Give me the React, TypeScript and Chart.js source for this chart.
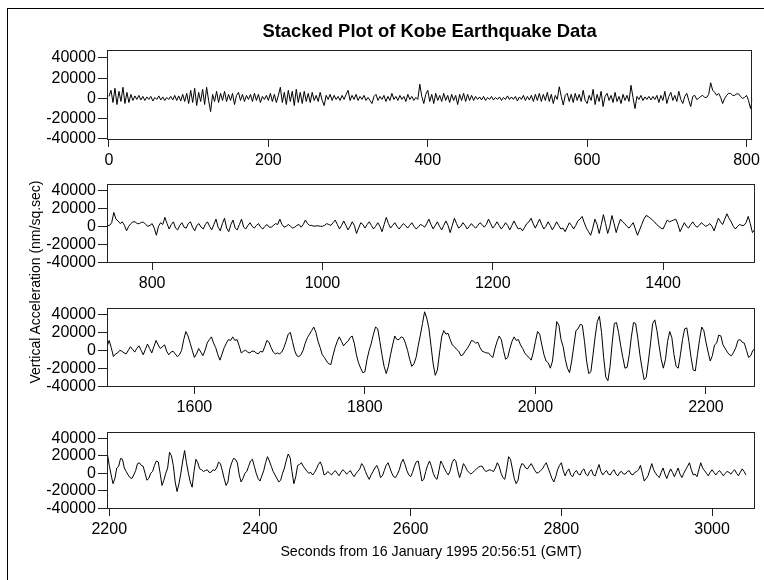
import { useEffect, useRef } from "react";
import { Chart, registerables } from "chart.js";

Chart.register(...registerables);

// ---------------- DATA ----------------
const CHART_TITLE = "Stacked Plot of Kobe Earthquake Data";
const X_TITLE = "Seconds from 16 January 1995 20:56:51 (GMT)";
const Y_TITLE = "Vertical Acceleration (nm/sq.sec)";

// one reading every 2.5 seconds, starting at second 0
const SAMPLE_INTERVAL = 2.5;

// vertical acceleration (nm/sq.sec), rows of 100 seconds (40 readings each)
const acceleration: number[] = [
  // 0
  2000, 8000, -4000, 10000, -6000, 7000, -3000, 11000, -5000, 6000, -4000, 4000, -2000, 2500, -1000, 3000, -1500, 2000, -2000, 1500,
  -1000, 2000, -2500, 1000, -1000, 2500, -1500, 1500, -2000, 1000, -1000, 2000, -1500, 3000, -2000, 2500, -2500, 4000, -3000, 5000,
  // 100
  -5000, 8000, -4000, 10000, -7000, 6000, -3000, 9000, -6000, 11000, -2000, -13000, 4000, -3000, 7000, -4000, 5000, -2000, 7000, -3000,
  4000, -2000, 5000, -6000, 3000, 6000, -2000, 4000, -3000, 3000, -1000, 4000, -3000, 5000, -2000, 4000, -4000, 2000, -1000, 3000,
  // 200
  -2000, 5000, -3000, 4000, -4000, 3000, 11000, -4000, 6000, -6000, 8000, -3000, 7000, -7000, 9000, -4000, 6000, -5000, 7000, -3000,
  5000, -4000, 6000, -2000, 3000, -3000, 6000, -2000, -7000, 3000, -1000, 4000, -2000, 3000, -1000, 2000, -2000, 3000, -1000, 4000,
  // 300
  8000, -2000, 3000, -1000, 4000, -2000, 2000, -1000, 3000, -2000, 1000, -2000, -5000, 2000, 4000, -2000, 2000, -1000, 3000, -3000,
  2000, -2000, 5000, -1000, 2000, -2000, 3000, -1000, 2000, -3000, 4000, -1000, 2000, -2000, 1000, -1000, 14000, 2000, -5000, 4000,
  // 400
  8000, -3000, 4000, -5000, 5000, -2000, 3000, -3000, 5000, -2000, 3000, -4000, 4000, -2000, 3000, -6000, 4000, -2000, 5000, -3000,
  4000, -2000, 3000, -2000, 2000, -1000, 1500, -1500, 2000, -2000, 1000, -1000, 2000, -1500, 1000, -1000, 1500, -2000, 1000, -1000,
  // 500
  2500, -1000, 1500, -1000, 2000, -2500, 1500, -1000, 3000, -2000, 2000, -1500, 3000, -3000, 4000, -2000, 5000, -3000, 4000, -2000,
  6000, -3000, 4000, -5000, 3000, -1000, 11500, 2000, -6500, 3000, 5000, -3000, 4000, -4000, 5000, -2000, 4000, -3000, 8000, -2000,
  // 600
  -5000, 3000, -2000, 9000, -6000, 4000, -3000, 7000, -8000, 2000, 5000, -2000, 3000, -4000, 6000, -3000, 2000, -5000, 4000, -2000,
  3000, -3000, 13000, 1000, -10000, 2000, -1000, 3000, -2000, 1500, -1000, 2000, -1500, 2000, -1000, 3000, -4000, 3000, -2000, 7000,
  // 700
  -5000, 2000, 6000, -2000, 3000, -3000, 7000, -1000, -5000, 2000, 5000, -2000, -8000, 2000, 3000, -1000, 0, 2000, 3000, 1000,
  1000, 4000, 15500, 8000, 6000, 3000, 5000, 1000, -5000, 0, 3000, 5000, 5000, 3000, 3000, 4500, 4500, 2000, 0, 1000,
  // 800
  3000, -2000, -10000, 0, 4000, 2000, 10000, 3000, -3000, 2000, 5000, -2000, -4000, 1000, 4000, -1000, -2000, 3000, 5000, -1000,
  -5000, 1000, 3000, -1000, -3000, 2000, 5000, 0, -4000, 2000, 8000, -1000, -5000, 3000, 9000, -2000, -6000, 2000, 7000, -2000,
  // 900
  -4000, 2000, 8000, -1000, -3000, 1000, 4000, 0, -2000, 1000, 3000, -1000, -3000, 0, 2000, -1000, -1000, 1000, 3000, 2000,
  8000, 2000, -1000, 0, 2000, 0, -2000, -1000, 1000, 2000, -1000, 2000, 7000, 3000, 1000, 1000, 0, 500, 500, 0,
  // 1000
  0, 1000, 3000, 2000, 1000, 4000, 7000, 2000, -3000, 1000, 6000, 1000, -4000, 0, 5000, 1000, -8000, -2000, 4000, 2000,
  -2000, 2000, 5000, 1000, -3000, 0, 4000, 0, -6000, 2000, 10000, 3000, -2000, 1000, 4000, 0, -3000, 0, 3000, 1000,
  // 1100
  -2000, 1000, 4000, 0, -3000, -1000, 2000, 1000, -1000, 3000, 8000, 2000, -3000, 1000, 5000, 0, -4000, 1000, 6000, 1000,
  -7000, 1000, 9000, 3000, -2000, 0, 4000, 1000, -3000, 0, 3000, 0, -2000, 1000, 4000, 2000, -1000, 2000, 8000, 3000,
  // 1200
  -2000, 1000, 5000, 1000, -3000, 0, 4000, 1000, -4000, 1000, 6000, 1000, -3000, -2000, -5000, -1000, 3000, 5000, 9000, 3000,
  -2000, 3000, 8000, 2000, -3000, 0, 5000, 1000, -4000, 0, 5000, 1000, -3000, -2000, -6000, -1000, 4000, 1000, -3000, 1000,
  // 1300
  6000, 8000, 11000, 4000, -2000, -6000, -10000, -2000, 8000, 2000, -8000, 2000, 13000, 3000, -8000, 0, 12000, 3000, -7000, 1000,
  8000, 5000, 3000, 0, -2000, 1000, 4000, -3000, -10000, -4000, 2000, 8000, 12000, 11000, 9000, 7000, 5000, 2000, 0, -2000,
  // 1400
  -3000, 2000, 7000, 5000, 6000, 7000, 8000, 2000, -6000, -1000, 4000, 0, -2000, 2000, 5000, 1000, -1000, 1000, 4000, 2000,
  0, 1000, 3000, 0, -5000, 2000, 9000, 5000, 2000, 8000, 14000, 9000, 5000, 0, -3000, 0, 2000, 1000, 1000, 4000,
  // 1500
  11000, 3000, -7000, -4000, -3000, 0, -1000, -3000, -4000, 0, 4000, 1000, -2000, 2000, 5000, 0, -5000, 1000, 7000, 2000,
  -3000, 4000, 11000, 6000, 2000, 4000, 6000, -1000, -5000, -2000, -1000, -4000, -7000, -5000, 0, 12000, 21000, 16000, 8000, 0,
  // 1600
  -8000, -4000, 2000, -2000, -6000, 0, 8000, 12000, 15000, 8000, 3000, -5000, -11000, -4000, 3000, 8000, 12000, 11000, 15000, 11000,
  12000, 5000, -3000, -1000, 0, -2000, -3000, -1000, -1000, -3000, -4000, -1000, -2000, 4000, 11000, 9000, 3000, -2000, -4000, -3000,
  // 1700
  -4000, -2000, 3000, 10000, 18000, 20000, 10000, 0, -6000, -7000, -5000, 0, 8000, 14000, 18000, 22000, 26000, 20000, 10000, 3000,
  -5000, -8000, -12000, -15000, -16000, -6000, 3000, 10000, 15000, 10000, 5000, 8000, 10000, 14000, 16000, 8000, -5000, -14000, -20000, -25000,
  // 1800
  -24000, -10000, 0, 8000, 18000, 26000, 24000, 10000, -5000, -18000, -26000, -18000, -5000, 6000, 16000, 12000, 12000, 15000, 14000, 8000,
  0, -10000, -18000, -15000, -8000, 5000, 17000, 30000, 43000, 36000, 25000, 5000, -15000, -28000, -22000, -3000, 15000, 22000, 18000, 19000,
  // 1900
  12000, 6000, 4000, 1000, -1000, -6000, -5000, -1000, 2000, 6000, 11000, 10000, 8000, 9000, 3000, -1000, -2000, -3000, -3000, -6000,
  -8000, 2000, 10000, 16000, 12000, 0, -10000, -8000, 2000, 10000, 15000, 11000, 12000, 6000, 2000, -3000, -6000, -8000, -11000, -2000,
  // 2000
  10000, 21000, 18000, 6000, -5000, -12000, -14000, -20000, -12000, 10000, 32000, 28000, 12000, 4000, -10000, -20000, -25000, -12000, 5000, 22000,
  24000, 29000, 28000, 10000, -12000, -26000, -24000, -5000, 15000, 32000, 38000, 20000, -8000, -30000, -34000, -18000, 8000, 30000, 31000, 20000,
  // 2100
  5000, -8000, -20000, -19000, -5000, 15000, 31000, 30000, 14000, -5000, -20000, -33000, -30000, -12000, 8000, 30000, 34000, 22000, 5000, -10000,
  -20000, -10000, 10000, 21000, 14000, -5000, -18000, -20000, -5000, 12000, 24000, 25000, 10000, -8000, -22000, -23000, -5000, 12000, 26000, 22000,
  // 2200
  9000, -2000, -12000, -6000, 6000, 8000, 17000, 16000, 6000, 2000, -2000, -5000, -6000, -2000, 3000, 11000, 12000, 9000, 8000, 0,
  -8000, -6000, 0, 2000, 9000, 14000, 13000, 0, -14000, -8000, 0, 6000, 24000, 20000, 9000, -10000, -21000, -12000, 0, 14000,
  // 2300
  26000, 12000, 0, -10000, -16000, 2000, 16000, 12000, 5000, 4000, 2000, 3000, 4000, 1000, 1000, 4000, 3000, 6000, 12700, 11000,
  3000, -6000, -14000, -10000, 5000, 12000, 17000, 16000, 12000, -2000, -10000, -6000, 0, 2000, 8000, 14000, 16000, 8000, 0, -6000,
  // 2400
  -9000, -3000, 3000, 12000, 19000, 14000, 8000, 2000, -2000, -6000, -10000, -8000, 0, 6000, 15000, 22000, 18000, 2000, -12000, -4000,
  9000, 10000, 12000, 8000, 5000, 2000, 0, 1000, -2000, 1000, 5000, 10000, 13000, 8000, -2000, -1000, 2000, 0, -2000, 1000,
  // 2500
  3000, 0, -3000, 1000, 4000, 2000, -1000, 1000, 3000, -1000, -4000, 0, 2000, 5000, 11000, 8000, 2000, -3000, -7000, -2000,
  2000, 6000, 9000, 4000, -5000, -3000, 3000, 9000, 12000, 6000, 0, -4000, -5000, -1000, 4000, 12000, 16000, 10000, 3000, -2000,
  // 2600
  -4000, 1000, 8000, 13000, 14000, 3000, -9000, -7000, 2000, 9000, 14000, 8000, 0, -5000, -7000, 3000, 14000, 10000, 5000, 1000,
  -2000, 3000, 12000, 16000, 14000, 3000, -5000, 2000, 11000, 8000, 3000, 1000, -1000, 1000, 3000, 5000, 7000, 8000, 8000, 4000,
  // 2700
  2000, 3000, 4000, 3000, 2000, 6000, 12000, 8000, 0, -5000, -7000, 5000, 19000, 16000, 5000, -6000, -12000, -8000, 5000, 11000,
  10000, 6000, 5000, 8000, 11000, 7000, 3000, 0, 1000, 3000, 5000, 9000, 12000, 6000, 0, -6000, -10000, -4000, 4000, 9000,
  // 2800
  12000, 3000, -3000, 2000, 5000, -2000, -4000, 1000, 3000, -1000, -2000, 3000, 5000, -1000, -3000, 2000, 4000, -2000, -3000, 4000,
  10000, 2000, -2000, 1000, 3000, -1000, -2000, 2000, 4000, -1000, -3000, 1000, 2000, -1000, -1000, 2000, 3000, -1000, -2000, 1000,
  // 2900
  2000, 4000, 9000, 0, -9000, -6000, -3000, 4000, 11000, 4000, 0, -3000, -5000, 1000, 6000, -1000, -6000, 0, 5000, 1000,
  -4000, 1000, 6000, -1000, -5000, 0, 4000, 8000, 12000, 4000, -2000, -1000, -4000, 4000, 12000, 6000, 3000, 0, -3000, 1000,
  // 3000
  4000, 1000, -2000, 1000, 3000, 0, -3000, 0, 2000, 1000, -1000, 2000, 4000, 0, -3000, 1000, 5000, 2000, -2000,
];

// time window (seconds) shown in each stacked panel
const panelWindows: [number, number][] = [
  [-2.5, 807],
  [747, 1508],
  [1497.5, 2257.5],
  [2197, 3057],
];
const panelTicks: number[][] = [
  [0, 200, 400, 600, 800],
  [800, 1000, 1200, 1400],
  [1600, 1800, 2000, 2200],
  [2200, 2400, 2600, 2800, 3000],
];
const accelTicks = [-40000, -20000, 0, 20000, 40000];
const ACCEL_MIN = -41000;
const ACCEL_MAX = 47700;

// ---------------- LAYOUT / STYLE ----------------
const W = 764;
const H = 580;
const FONT = "'Liberation Sans', Arial, Helvetica, sans-serif";
const AXIS_COLOR = "#222";

const panelBoxes = [
  { top: 0, height: 172, padTop: 0, xHeight: 32 },
  { top: 172, height: 124, padTop: 2, xHeight: 33 },
  { top: 296, height: 124, padTop: 2, xHeight: 33 },
  { top: 420, height: 160, padTop: 1, xHeight: 71 },
];

Chart.defaults.font.family = FONT;

const boxPlugin = {
  id: "plotBox",
  afterDraw(chart: any) {
    const { ctx, chartArea } = chart;
    const l = Math.round(chartArea.left) + 0.5;
    const t = Math.round(chartArea.top) + 0.5;
    const r = Math.round(chartArea.right) - 0.5;
    const b = Math.round(chartArea.bottom) - 0.5;
    ctx.save();
    ctx.strokeStyle = AXIS_COLOR;
    ctx.lineWidth = 1;
    ctx.strokeRect(l, t, r - l, b - t);
    ctx.restore();
  },
};

function Panel({ index }: { index: number }) {
  const ref = useRef<HTMLCanvasElement | null>(null);
  const box = panelBoxes[index];

  useEffect(() => {
    if (!ref.current) return;
    const points = acceleration.map((v, i) => ({ x: i * SAMPLE_INTERVAL, y: v }));
    const [xmin, xmax] = panelWindows[index];
    const ticksX = panelTicks[index];
    const isFirst = index === 0;
    const isLast = index === panelBoxes.length - 1;

    const chart = new Chart(ref.current, {
      type: "line",
      data: {
        datasets: [
          {
            data: points,
            borderColor: "#000",
            borderWidth: 1,
            pointRadius: 0,
            fill: false,
            tension: 0,
          },
        ],
      },
      options: {
        animation: false,
        responsive: false,
        maintainAspectRatio: false,
        events: [],
        layout: { padding: { top: box.padTop, right: 9, left: 0, bottom: 0 } },
        plugins: {
          legend: { display: false },
          tooltip: { enabled: false },
          title: isFirst
            ? {
                display: true,
                text: CHART_TITLE,
                fullSize: false,
                color: "#000",
                font: { size: 18.4, weight: "bold", family: FONT },
                padding: { top: 21, bottom: 7 },
              }
            : { display: false },
        },
        scales: {
          x: {
            type: "linear",
            min: xmin,
            max: xmax,
            afterBuildTicks: (ax: any) => {
              ax.ticks = ticksX.map((v) => ({ value: v }));
            },
            afterFit: (s: any) => {
              s.height = box.xHeight;
            },
            ticks: {
              color: "#000",
              font: { size: 16, family: FONT },
              padding: 4,
              maxRotation: 0,
              autoSkip: false,
              callback: (v: any) => String(v),
            },
            grid: {
              drawOnChartArea: false,
              drawTicks: true,
              tickLength: 7,
              color: AXIS_COLOR,
            },
            border: { display: false },
            title: isLast
              ? {
                  display: true,
                  text: X_TITLE,
                  color: "#000",
                  font: { size: 14.2, family: FONT },
                  padding: { top: 0, bottom: 19 },
                }
              : { display: false },
          },
          y: {
            type: "linear",
            min: ACCEL_MIN,
            max: ACCEL_MAX,
            afterBuildTicks: (ax: any) => {
              ax.ticks = accelTicks.map((v) => ({ value: v }));
            },
            afterFit: (s: any) => {
              s.width = 107;
            },
            ticks: {
              color: "#000",
              font: { size: 16, family: FONT },
              padding: 2,
              autoSkip: false,
              callback: (v: any) => String(v),
            },
            grid: {
              drawOnChartArea: false,
              drawTicks: true,
              tickLength: 9,
              color: AXIS_COLOR,
            },
            border: { display: false },
          },
        },
      },
      plugins: [boxPlugin],
    } as any);
    return () => chart.destroy();
  }, [index]);

  return (
    <canvas
      ref={ref}
      width={W}
      height={box.height}
      style={{ position: "absolute", left: 0, top: box.top, width: W, height: box.height, display: "block" }}
    />
  );
}

export default function App() {
  return (
    <div
      style={{
        position: "absolute",
        left: 0,
        top: 0,
        width: W,
        height: H,
        overflow: "hidden",
        background: "#fff",
      }}
    >
      <div
        style={{
          position: "absolute",
          left: 7,
          top: 8,
          width: 900,
          height: 900,
          borderLeft: "1px solid #000",
          borderTop: "1px solid #000",
        }}
      />
      {panelBoxes.map((_, i) => (
        <Panel key={i} index={i} />
      ))}
      <div
        style={{
          position: "absolute",
          left: 35 - 200,
          top: 282 - 9,
          width: 400,
          height: 18,
          lineHeight: "18px",
          textAlign: "center",
          fontFamily: FONT,
          fontSize: 14,
          color: "#000",
          transform: "rotate(-90deg)",
          transformOrigin: "50% 50%",
          whiteSpace: "nowrap",
        }}
      >
        {Y_TITLE}
      </div>
    </div>
  );
}
